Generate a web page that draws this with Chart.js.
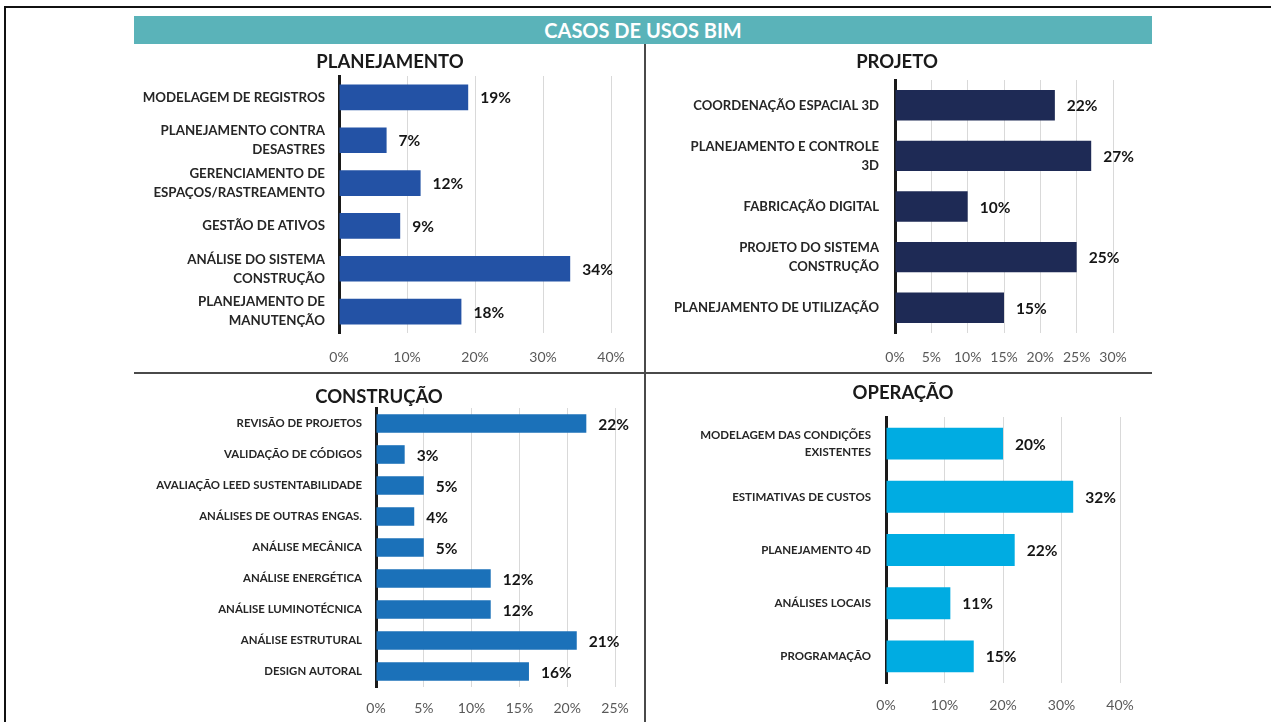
<!DOCTYPE html>
<html lang="pt-BR">
<head>
<meta charset="utf-8">
<title>Casos de usos BIM</title>
<script src="https://cdn.jsdelivr.net/npm/chart.js@4.4.1/dist/chart.umd.min.js"></script>
<style>
  html, body { margin: 0; padding: 0; background: #fff; }
  body { width: 1271px; height: 722px; position: relative; overflow: hidden; font-family: Lato, "Open Sans", sans-serif; }
  .frame-top { position: absolute; left: 5px; top: 6px; width: 1266px; height: 2px; background: #111; }
  .frame-left { position: absolute; left: 4px; top: 6px; width: 2px; height: 716px; background: #111; }
  .banner { position: absolute; left: 134px; top: 16px; width: 1018px; height: 28px; background: #5ab3b9;
            color: #fff; font-weight: 700; font-size: 20px; line-height: 29px; text-align: center; }
  .div-v { position: absolute; left: 644px; top: 44px; width: 2px; height: 678px; background: #4a4a4a; }
  .div-h { position: absolute; left: 134px; top: 372px; width: 1018px; height: 2px; background: #4a4a4a; }
  canvas { position: absolute; }
</style>
</head>
<body>
<div class="frame-top"></div>
<div class="frame-left"></div>
<div class="banner">CASOS DE USOS BIM</div>
<div class="div-v"></div>
<div class="div-h"></div>

<canvas id="planejamento" style="left:134px;top:46px" width="512" height="322"></canvas>
<canvas id="projeto" style="left:647px;top:46px" width="500" height="322"></canvas>
<canvas id="construcao" style="left:124px;top:375px" width="510" height="347"></canvas>
<canvas id="operacao" style="left:648px;top:375px" width="510" height="343"></canvas>

<script>
// PLANEJAMENTO
const planLabels = [
  "MODELAGEM DE REGISTROS",
  ["PLANEJAMENTO CONTRA", "DESASTRES"],
  ["GERENCIAMENTO DE", "ESPAÇOS/RASTREAMENTO"],
  "GESTÃO DE ATIVOS",
  ["ANÁLISE DO SISTEMA", "CONSTRUÇÃO"],
  ["PLANEJAMENTO DE", "MANUTENÇÃO"]
];
const planValues = [19, 7, 12, 9, 34, 18];

// PROJETO
const projLabels = [
  "COORDENAÇÃO ESPACIAL 3D",
  ["PLANEJAMENTO E CONTROLE", "3D"],
  "FABRICAÇÃO DIGITAL",
  ["PROJETO DO SISTEMA", "CONSTRUÇÃO"],
  "PLANEJAMENTO DE UTILIZAÇÃO"
];
const projValues = [22, 27, 10, 25, 15];

// CONSTRUÇÃO
const constLabels = [
  "REVISÃO DE PROJETOS",
  "VALIDAÇÃO DE CÓDIGOS",
  "AVALIAÇÃO LEED SUSTENTABILIDADE",
  "ANÁLISES DE OUTRAS ENGAS.",
  "ANÁLISE MECÂNICA",
  "ANÁLISE ENERGÉTICA",
  "ANÁLISE LUMINOTÉCNICA",
  "ANÁLISE ESTRUTURAL",
  "DESIGN AUTORAL"
];
const constValues = [22, 3, 5, 4, 5, 12, 12, 21, 16];

// OPERAÇÃO
const operLabels = [
  ["MODELAGEM DAS CONDIÇÕES", "EXISTENTES"],
  "ESTIMATIVAS DE CUSTOS",
  "PLANEJAMENTO 4D",
  "ANÁLISES LOCAIS",
  "PROGRAMAÇÃO"
];
const operValues = [20, 32, 22, 11, 15];

// eixo x (%): máximo e passo de cada painel
const tickMax = { planejamento: 40, projeto: 30, construcao: 25, operacao: 40 };
const tickStep = { planejamento: 10, projeto: 5, construcao: 5, operacao: 10 };

const FONT = "Lato, 'Open Sans', sans-serif";

// rótulo "xx%" no fim de cada barra
const barValueLabels = {
  id: "barValueLabels",
  afterDatasetsDraw(chart) {
    const { ctx } = chart;
    const meta = chart.getDatasetMeta(0);
    ctx.save();
    ctx.font = `bold 15.5px ${FONT}`;
    ctx.fillStyle = "#151515";
    ctx.textAlign = "left";
    ctx.textBaseline = "middle";
    meta.data.forEach((bar, i) => {
      ctx.fillText(chart.data.datasets[0].data[i] + "%", bar.x + 12, bar.y + 1);
    });
    ctx.restore();
  }
};

const noPadding = (s) => { s.paddingTop = 0; s.paddingBottom = 0; s.paddingLeft = 0; s.paddingRight = 0; };

// g = posições do painel na página (px)
function makePanel(id, title, labels, values, color, g) {
  const canvas = document.getElementById(id);
  const left = parseFloat(canvas.style.left);
  const top = parseFloat(canvas.style.top);
  const titleSize = 18.5;
  const titleLine = titleSize * 1.2;
  const padTop = g.titleY - top - titleLine / 2;
  const padBottom = g.plotTop - top - padTop - titleLine;

  new Chart(canvas, {
    type: "bar",
    data: {
      labels: labels,
      datasets: [{
        data: values,
        xAxisID: "x",
        yAxisID: "y",
        backgroundColor: color,
        barPercentage: 1,
        categoryPercentage: 0.6
      }]
    },
    plugins: [barValueLabels],
    options: {
      indexAxis: "y",
      responsive: false,
      animation: false,
      events: [],
      layout: { padding: 0 },
      plugins: {
        legend: { display: false },
        tooltip: { enabled: false },
        title: {
          display: true,
          text: title,
          color: "#1a1a1a",
          font: { family: FONT, size: titleSize, weight: "bold", lineHeight: 1.2 },
          padding: { top: padTop, bottom: padBottom }
        }
      },
      scales: {
        y: {
          afterFit: (s) => { s.width = g.axisX - left; noPadding(s); },
          ticks: {
            padding: g.labelPad,
            color: "#262626",
            font: { family: FONT, size: g.labelSize, weight: "bold", lineHeight: g.labelLine }
          },
          grid: { display: false, drawTicks: false },
          border: { display: true, color: "#1a1a1a", width: 3 }
        },
        x: {
          min: 0,
          max: tickMax[id],
          afterFit: (s) => { s.height = top + canvas.height - g.plotBottom; noPadding(s); },
          ticks: {
            stepSize: tickStep[id],
            padding: g.tickPad,
            color: "#595959",
            font: { family: FONT, size: 14 },
            callback: (v) => v + "%"
          },
          grid: { color: "#d9d9d9", lineWidth: 1, drawTicks: false },
          border: { display: false }
        },
        // eixo vazio à direita: reserva espaço para os rótulos das barras
        spacer: {
          type: "linear",
          position: "right",
          afterFit: (s) => { s.width = left + canvas.width - g.plotRight; noPadding(s); },
          ticks: { display: false },
          grid: { display: false, drawTicks: false },
          border: { display: false }
        }
      }
    }
  });
}

document.addEventListener("DOMContentLoaded", () => {
  makePanel("planejamento", "PLANEJAMENTO", planLabels, planValues, "#2352a5",
    { axisX: 339, plotTop: 76, plotBottom: 333, plotRight: 611, titleY: 62, tickPad: 16, labelPad: 14, labelSize: 13.3, labelLine: 1.43 });
  makePanel("projeto", "PROJETO", projLabels, projValues, "#1e2a55",
    { axisX: 895, plotTop: 80, plotBottom: 333, plotRight: 1113, titleY: 62, tickPad: 16, labelPad: 16, labelSize: 13.1, labelLine: 1.45 });
  makePanel("construcao", "CONSTRUÇÃO", constLabels, constValues, "#1b71b9",
    { axisX: 376, plotTop: 408, plotBottom: 687, plotRight: 615, titleY: 397, tickPad: 13, labelPad: 14, labelSize: 11.4, labelLine: 1.2 });
  makePanel("operacao", "OPERAÇÃO", operLabels, operValues, "#00ace2",
    { axisX: 886, plotTop: 417, plotBottom: 683, plotRight: 1120, titleY: 393, tickPad: 14, labelPad: 15, labelSize: 11.5, labelLine: 1.48 });
});
</script>
</body>
</html>
